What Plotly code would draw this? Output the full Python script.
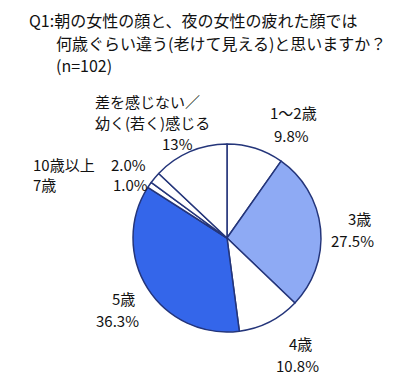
import plotly.graph_objects as go

# ---- data ----
categories = ["1～2歳", "3歳", "4歳", "5歳", "7歳", "10歳以上", "差を感じない／幼く(若く)感じる"]
values = [9.8, 27.5, 10.8, 36.3, 1.0, 2.0, 13.0]
value_labels = ["9.8%", "27.5%", "10.8%", "36.3%", "1.0%", "2.0%", "13%"]
title_lines = ["Q1:朝の女性の顔と、夜の女性の疲れた顔では",
               "何歳ぐらい違う(老けて見える)と思いますか？",
               "(n=102)"]

# ---- styles ----
W, H = 400, 382
colors = ["#ffffff", "#8eaaf4", "#ffffff", "#3466ea", "#ffffff", "#ffffff", "#ffffff"]
outline = "#24357a"
FONT = "Noto Sans CJK JP"

def px(x, y):
    return x / W, 1 - y / H

# pie: center (227, 238), radius 94
cx, cy, r = 227, 238, 94
fig = go.Figure(go.Pie(
    labels=categories, values=values, sort=False, direction="clockwise", rotation=0,
    marker=dict(colors=colors, line=dict(color=outline, width=1.5)),
    textinfo="none", hoverinfo="label+percent", showlegend=False,
    domain=dict(x=[(cx - r) / W, (cx + r) / W], y=[1 - (cy + r) / H, 1 - (cy - r) / H]),
))

ann = []
def add(text, x, y, size=15, anchor="center"):
    ax, ay = px(x, y)
    ann.append(dict(text=text, x=ax, y=ay, xref="paper", yref="paper", showarrow=False,
                    xanchor=anchor, yanchor="middle", font=dict(family=FONT, size=size, color="#111")))

# title
add(title_lines[0], 27, 20, 16, "left")
add(title_lines[1], 54, 43, 16, "left")
add(title_lines[2], 54, 65, 16, "left")

# category name lines (positions: left x, center y)
name_pos = {
    "1～2歳": [("1～2歳", 268, 113)],
    "3歳": [("3歳", 346, 218)],
    "4歳": [("4歳", 287, 343)],
    "5歳": [("5歳", 110, 298)],
    "7歳": [("7歳", 31, 185)],
    "10歳以上": [("10歳以上", 31, 164)],
    "差を感じない／幼く(若く)感じる": [("差を感じない／", 93, 101), ("幼く(若く)感じる", 93, 122)],
}
value_pos = [(272, 136), (329, 240), (274, 365), (94, 320), (111, 185), (109, 164), (160, 143)]

for cat, (vx, vy), vl in zip(categories, value_pos, value_labels):
    for t, x, y in name_pos[cat]:
        add(t, x, y, 15, "left")
    add(vl, vx, vy, 15, "left")

fig.update_layout(width=W, height=H, margin=dict(l=0, r=0, t=0, b=0),
                  paper_bgcolor="white", plot_bgcolor="white", annotations=ann)
fig.write_html("out.html", config={"displayModeBar": False},
               post_script="document.body.style.margin='0';")
